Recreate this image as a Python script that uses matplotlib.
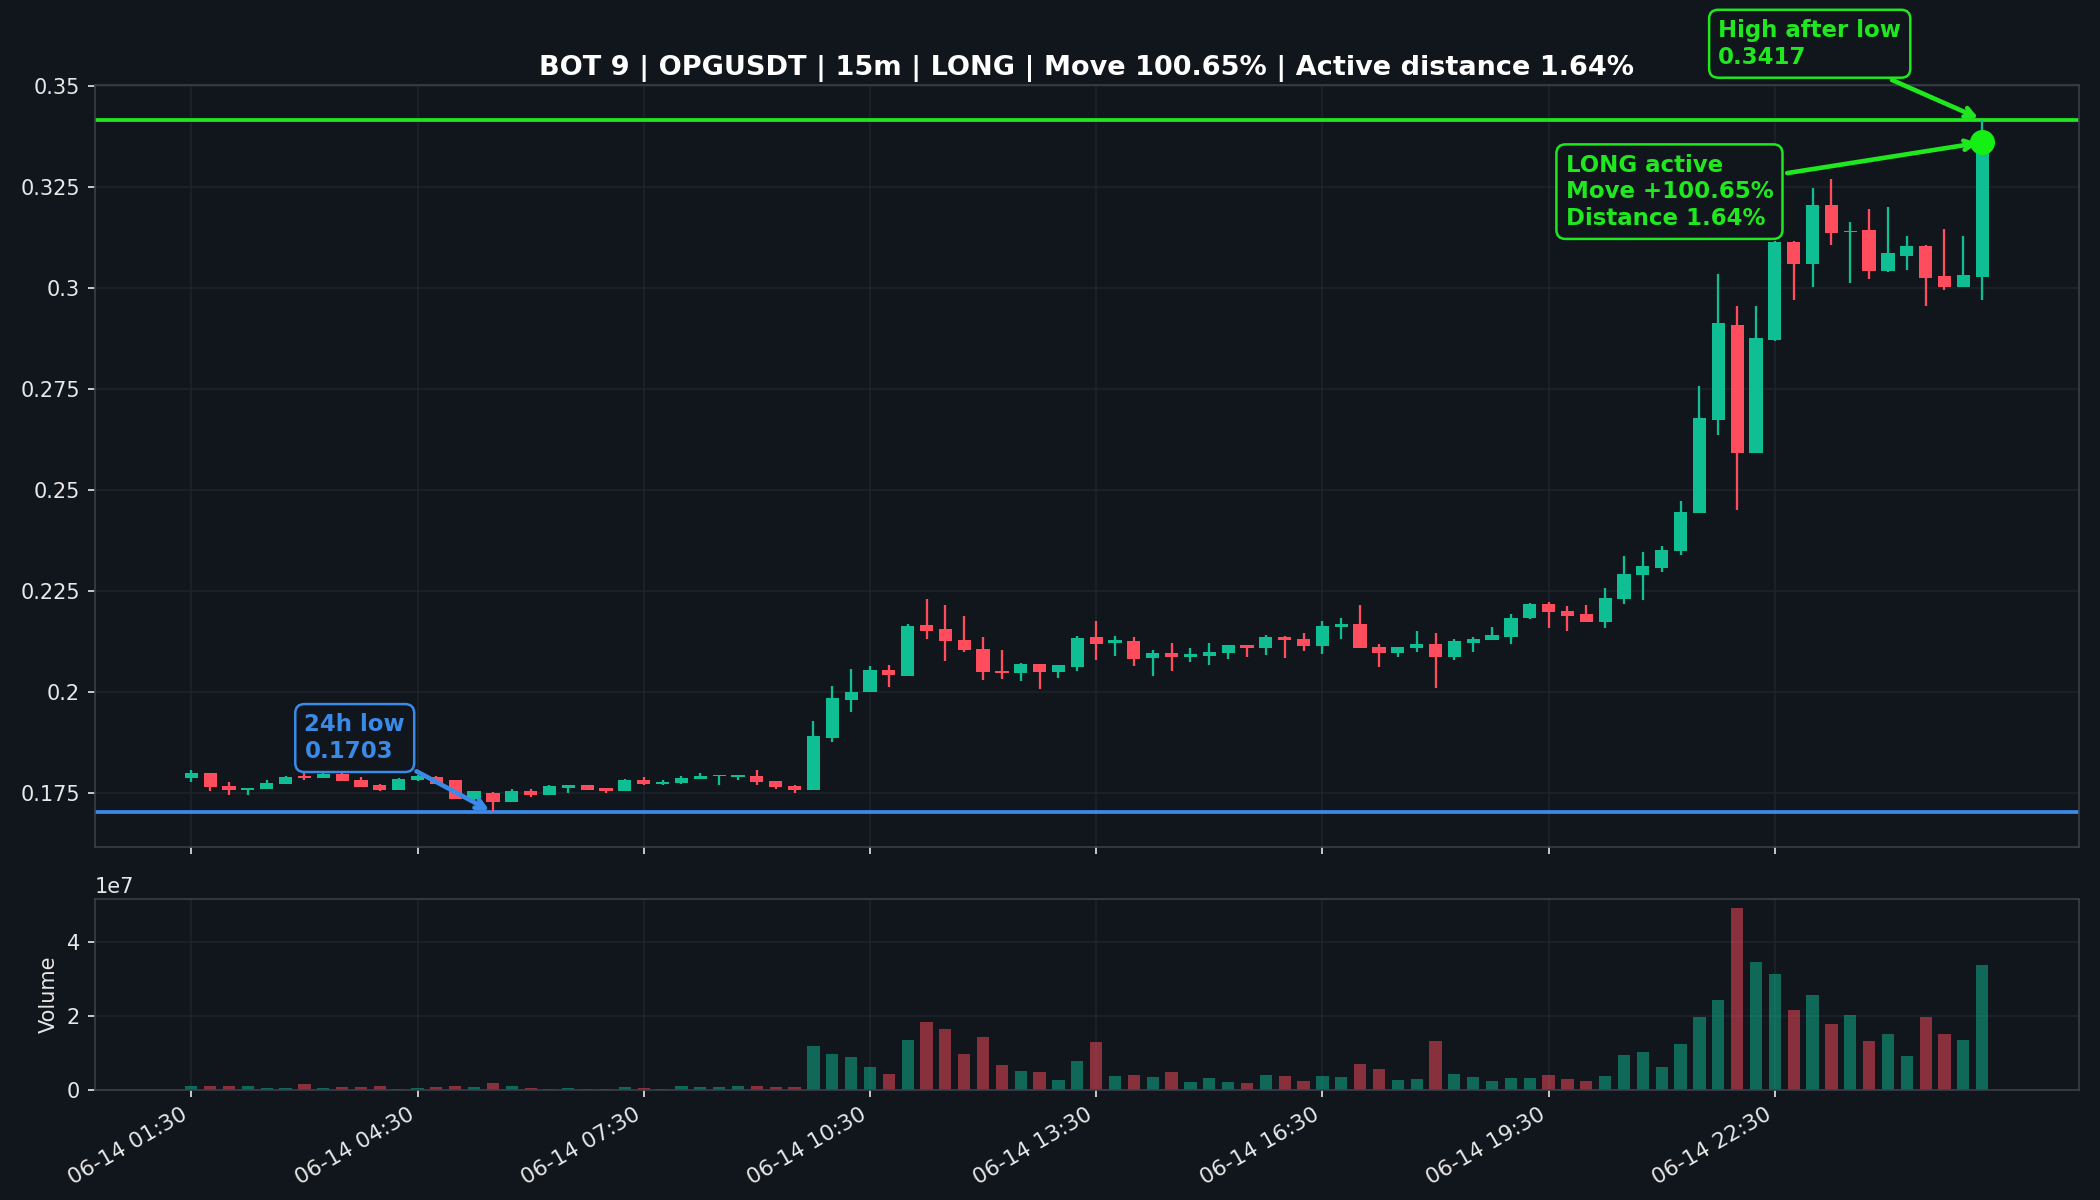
import numpy as np
import pandas as pd
import matplotlib
matplotlib.use("Agg")
import matplotlib.pyplot as plt
from matplotlib.ticker import FuncFormatter

# OHLC for 96 x 15m candles
opens = [0.1789, 0.1801, 0.1769, 0.1758, 0.1762, 0.1774, 0.1794, 0.1789, 0.1799, 0.1784,
         0.1771, 0.1759, 0.1783, 0.1791, 0.1782, 0.1735, 0.1751, 0.1729, 0.1757, 0.1747,
         0.1763, 0.1770, 0.1763, 0.1756, 0.1784, 0.1774, 0.1776, 0.1786, 0.1792, 0.1791,
         0.1793, 0.1781, 0.1768, 0.1758, 0.1888, 0.1980, 0.2001, 0.2056, 0.2040, 0.2167,
         0.2157, 0.2130, 0.2108, 0.2054, 0.2048, 0.2070, 0.2051, 0.2064, 0.2137, 0.2122,
         0.2128, 0.2084, 0.2097, 0.2087, 0.2089, 0.2097, 0.2117, 0.2110, 0.2138, 0.2132,
         0.2114, 0.2162, 0.2170, 0.2112, 0.2097, 0.2110, 0.2120, 0.2087, 0.2122, 0.2130,
         0.2138, 0.2183, 0.2219, 0.2202, 0.2194, 0.2174, 0.2231, 0.2290, 0.2307, 0.2349,
         0.2445, 0.2674, 0.2910, 0.2593, 0.2873, 0.3115, 0.3059, 0.3207, 0.3138, 0.3143,
         0.3043, 0.3081, 0.3104, 0.3030, 0.3003, 0.3028]
highs = [0.1807, 0.1801, 0.1779, 0.1764, 0.1784, 0.1793, 0.1806, 0.1811, 0.1801, 0.1791,
         0.1774, 0.1787, 0.1795, 0.1794, 0.1784, 0.1757, 0.1754, 0.1762, 0.1762, 0.1770,
         0.1772, 0.1771, 0.1764, 0.1786, 0.1791, 0.1783, 0.1793, 0.1801, 0.1795, 0.1796,
         0.1807, 0.1781, 0.1772, 0.1928, 0.2017, 0.2059, 0.2066, 0.2068, 0.2169, 0.2232,
         0.2217, 0.2190, 0.2138, 0.2106, 0.2073, 0.2071, 0.2068, 0.2140, 0.2177, 0.2140,
         0.2137, 0.2106, 0.2122, 0.2110, 0.2122, 0.2117, 0.2118, 0.2143, 0.2139, 0.2147,
         0.2177, 0.2184, 0.2217, 0.2120, 0.2113, 0.2153, 0.2147, 0.2133, 0.2138, 0.2162,
         0.2194, 0.2222, 0.2223, 0.2213, 0.2217, 0.2258, 0.2338, 0.2347, 0.2363, 0.2474,
         0.2758, 0.3036, 0.2956, 0.2956, 0.3117, 0.3117, 0.3249, 0.3271, 0.3164, 0.3195,
         0.3200, 0.3129, 0.3106, 0.3146, 0.3129, 0.3417]
lows = [0.1778, 0.1756, 0.1745, 0.1745, 0.1760, 0.1773, 0.1784, 0.1788, 0.1780, 0.1765,
        0.1757, 0.1758, 0.1780, 0.1773, 0.1737, 0.1734, 0.1703, 0.1728, 0.1741, 0.1746,
        0.1751, 0.1758, 0.1750, 0.1755, 0.1770, 0.1770, 0.1773, 0.1786, 0.1770, 0.1783,
        0.1772, 0.1760, 0.1750, 0.1758, 0.1877, 0.1952, 0.2000, 0.2013, 0.2040, 0.2131,
        0.2077, 0.2099, 0.2030, 0.2032, 0.2027, 0.2008, 0.2035, 0.2054, 0.2079, 0.2091,
        0.2066, 0.2041, 0.2052, 0.2074, 0.2067, 0.2083, 0.2088, 0.2092, 0.2084, 0.2102,
        0.2096, 0.2131, 0.2111, 0.2064, 0.2087, 0.2100, 0.2010, 0.2079, 0.2100, 0.2129,
        0.2120, 0.2182, 0.2159, 0.2153, 0.2174, 0.2159, 0.2218, 0.2228, 0.2299, 0.2339,
        0.2445, 0.2637, 0.2451, 0.2593, 0.2870, 0.2972, 0.3003, 0.3108, 0.3012, 0.3022,
        0.3041, 0.3046, 0.2956, 0.2995, 0.3002, 0.2972]
closes = [0.1801, 0.1766, 0.1758, 0.1764, 0.1776, 0.1791, 0.1787, 0.1799, 0.1780, 0.1766,
          0.1759, 0.1786, 0.1794, 0.1774, 0.1737, 0.1755, 0.1729, 0.1756, 0.1747, 0.1768,
          0.1770, 0.1759, 0.1756, 0.1784, 0.1774, 0.1779, 0.1788, 0.1793, 0.1795, 0.1796,
          0.1778, 0.1766, 0.1758, 0.1893, 0.1985, 0.2001, 0.2056, 0.2042, 0.2165, 0.2153,
          0.2126, 0.2104, 0.2050, 0.2048, 0.2070, 0.2050, 0.2068, 0.2135, 0.2119, 0.2130,
          0.2083, 0.2097, 0.2087, 0.2095, 0.2100, 0.2117, 0.2109, 0.2137, 0.2129, 0.2114,
          0.2165, 0.2169, 0.2111, 0.2097, 0.2112, 0.2120, 0.2087, 0.2128, 0.2133, 0.2143,
          0.2184, 0.2219, 0.2199, 0.2190, 0.2174, 0.2233, 0.2293, 0.2313, 0.2353, 0.2446,
          0.2680, 0.2913, 0.2593, 0.2876, 0.3115, 0.3059, 0.3207, 0.3137, 0.3142, 0.3043,
          0.3086, 0.3104, 0.3026, 0.3003, 0.3032, 0.3361]
# volume in millions
volume_m = [0.9, 0.9, 0.9, 0.9, 0.4, 0.4, 1.5, 0.4, 0.6, 0.6,
            0.9, 0.2, 0.4, 0.6, 0.9, 0.6, 1.8, 0.9, 0.4, 0.1,
            0.4, 0.1, 0.1, 0.6, 0.4, 0.1, 0.9, 0.7, 0.7, 0.9,
            0.9, 0.6, 0.6, 11.8, 9.7, 8.8, 6.1, 4.2, 13.5, 18.4,
            16.5, 9.7, 14.3, 6.7, 5.0, 4.7, 2.6, 7.7, 12.9, 3.6,
            3.9, 3.4, 4.7, 2.0, 3.1, 2.0, 1.7, 3.9, 3.6, 2.3,
            3.6, 3.4, 6.9, 5.6, 2.6, 2.8, 13.2, 4.2, 3.4, 2.3,
            3.1, 3.1, 3.9, 2.8, 2.3, 3.6, 9.4, 10.2, 6.1, 12.4,
            19.8, 24.4, 49.3, 34.8, 31.5, 21.7, 25.8, 17.9, 20.3, 13.2,
            15.1, 9.1, 19.8, 15.1, 13.5, 34.0]

low_24h = 0.1703
high_after_low = 0.3417
title = "BOT 9 | OPGUSDT | 15m | LONG | Move 100.65% | Active distance 1.64%"

BG = "#11151c"
UP = "#10be94"
DOWN = "#ff4d5e"
LIME = "#1fe81f"
BLUE = "#3a8ae8"
TXT = "#e8e8e8"

o = np.array(opens)
h = np.array(highs)
l = np.array(lows)
c = np.array(closes)
vol = np.array(volume_m) * 1e6
x = np.arange(len(o))
times = pd.date_range("2024-06-14 01:30", periods=len(o), freq="15min")
up = c >= o
colors = np.where(up, UP, DOWN)

fig, (ax, axv) = plt.subplots(2, 1, figsize=(14, 8), dpi=150, sharex=True,
                              gridspec_kw={"height_ratios": [4, 1], "hspace": 0.11})
fig.patch.set_facecolor(BG)
fig.subplots_adjust(left=0.045, right=0.99, top=0.929, bottom=0.092)

for a in (ax, axv):
    a.set_facecolor(BG)
    a.grid(True, color="#222731", lw=0.8, alpha=0.7)
    a.set_axisbelow(True)
    for s in a.spines.values():
        s.set_color("#3a3f4a")
    a.tick_params(colors=TXT, labelsize=10)

# candles
ax.vlines(x, l, h, colors=colors, lw=1.1, zorder=2)
body = np.maximum(np.abs(c - o), 0.0003)
ax.bar(x, body, bottom=np.minimum(o, c), width=0.7, color=colors, zorder=3)

ax.axhline(high_after_low, color=LIME, lw=1.8, zorder=1)
ax.axhline(low_24h, color=BLUE, lw=1.8, zorder=1)
ax.plot(x[-1], c[-1], "o", color="#14f014", ms=11, zorder=5)

ax.set_ylim(low_24h * 0.95, high_after_low * 1.025)
ax.set_yticks(np.arange(0.175, 0.351, 0.025))
ax.yaxis.set_major_formatter(FuncFormatter(lambda v, p: f"{v:g}"))
ax.set_title(title, color="white", fontsize=13, fontweight="bold", pad=5)

box = dict(boxstyle="round,pad=0.4", fc=BG, lw=1.2)
ilow = int(np.argmin(l))
ax.annotate(f"24h low\n{low_24h:.4f}", xy=(x[ilow], low_24h), xytext=(6.0, 0.1887),
            color=BLUE, fontsize=11, fontweight="bold", va="center", ha="left",
            bbox=dict(box, ec=BLUE),
            arrowprops=dict(arrowstyle="->", color=BLUE, lw=2.2))
ax.annotate(f"High after low\n{high_after_low:.4f}", xy=(x[-1], high_after_low),
            xytext=(81.0, 0.3605), color=LIME, fontsize=11, fontweight="bold",
            va="center", ha="left", annotation_clip=False,
            bbox=dict(box, ec=LIME),
            arrowprops=dict(arrowstyle="->", color=LIME, lw=2.2))
ax.annotate("LONG active\nMove +100.65%\nDistance 1.64%", xy=(x[-1], c[-1]),
            xytext=(72.9, 0.3239), color=LIME, fontsize=11, fontweight="bold",
            va="center", ha="left", linespacing=1.2,
            bbox=dict(box, ec=LIME),
            arrowprops=dict(arrowstyle="->", color=LIME, lw=2.2))

# volume
axv.bar(x, vol, width=0.65, color=colors, alpha=0.5)
axv.set_ylabel("Volume", color=TXT, fontsize=10)
axv.yaxis.get_offset_text().set_color(TXT)
axv.set_yticks([0, 2e7, 4e7])

ticks = x[::12]
axv.set_xticks(ticks)
axv.set_xticklabels(times[::12].strftime("%m-%d %H:%M"), rotation=30, ha="right",
                    fontsize=10.5)
ax.tick_params(labelbottom=False)

plt.savefig("out.png", dpi=150, facecolor=BG)
